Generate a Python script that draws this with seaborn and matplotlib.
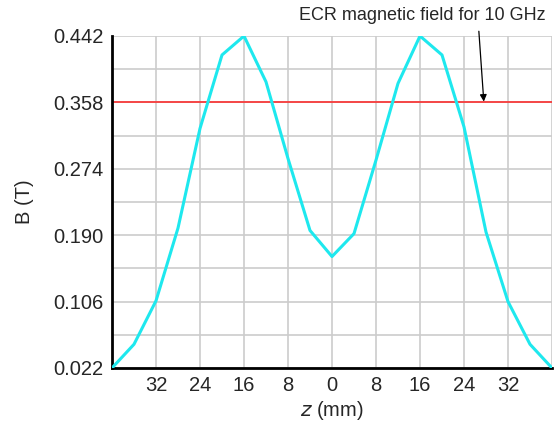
#%% imports
import numpy as np
import pandas as pd
import matplotlib
matplotlib.use("Agg")
import matplotlib.pyplot as plt
import seaborn as sns

#%% data
z_mm = [-40, -36, -32, -28, -24, -20, -16, -12, -8, -4, 0,
        4, 8, 12, 16, 20, 24, 28, 32, 36, 40]
b_tesla = [0.022, 0.052, 0.107, 0.199, 0.325, 0.418, 0.442, 0.384, 0.287, 0.196, 0.163,
           0.192, 0.285, 0.382, 0.442, 0.418, 0.327, 0.194, 0.106, 0.052, 0.022]
ecr_field = 0.358
y_ticks = [0.022, 0.106, 0.190, 0.274, 0.358, 0.442]
x_ticks = [-32, -24, -16, -8, 0, 8, 16, 24, 32]

df = pd.DataFrame({"z": z_mm, "B": b_tesla})

#%% plot
sns.set_style("white")
plt.rcParams["font.family"] = ["Liberation Sans", "DejaVu Sans"]

fig = plt.figure(figsize=(5.55, 4.28), dpi=100)
ax = fig.add_axes([0.2018, 0.1402, 0.7928, 0.7757])

# grid every 8 mm / 0.042 T
for xv in range(-40, 41, 8):
    ax.axvline(xv, color="#cccccc", lw=1.2, zorder=0)
for yv in np.arange(0.022, 0.4421, 0.042):
    ax.axhline(yv, color="#cccccc", lw=1.2, zorder=0)

ax.axhline(ecr_field, color="#ff2020", lw=1.1, zorder=2)
sns.lineplot(data=df, x="z", y="B", color="#1ee8ee", lw=2.2, ax=ax, zorder=3)

ax.set_xlim(-40, 40)
ax.set_ylim(0.022, 0.442)
ax.set_xticks(x_ticks)
ax.set_xticklabels([str(abs(v)) for v in x_ticks])
ax.set_yticks(y_ticks)
ax.set_yticklabels([f"{v:.3f}" for v in y_ticks])
ax.tick_params(axis="both", length=0, labelsize=14.5, pad=6)

for side in ["top", "right"]:
    ax.spines[side].set_visible(False)
for side in ["left", "bottom"]:
    ax.spines[side].set_color("black")
    ax.spines[side].set_linewidth(2)

ax.set_xlabel("$z$ (mm)", fontsize=14.5, labelpad=3)
ax.set_ylabel("B (T)", fontsize=14.5, labelpad=14)

# label and arrow for the ECR line
ax.text(16.4, 0.4685, "ECR magnetic field for 10 GHz", ha="center", va="center",
        fontsize=13, clip_on=False)
ax.annotate("", xy=(27.6, ecr_field + 0.001), xytext=(26.7, 0.448),
            arrowprops=dict(arrowstyle="-|>", color="black", lw=0.9,
                            mutation_scale=10, shrinkA=0, shrinkB=0),
            annotation_clip=False)

fig.savefig("out.png", dpi=100)
